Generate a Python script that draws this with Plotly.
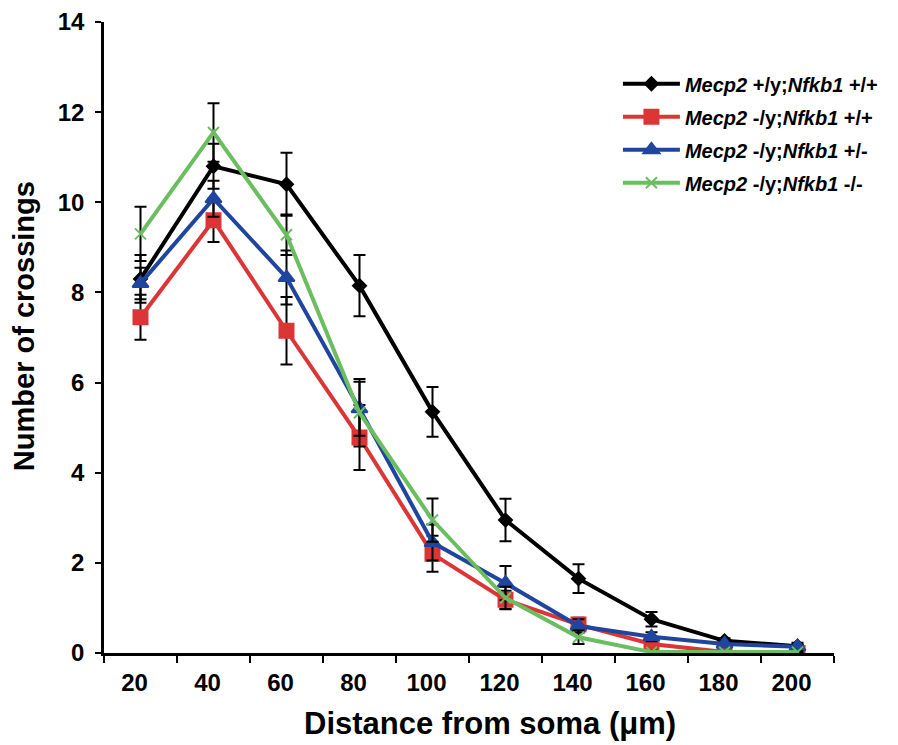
import plotly.graph_objects as go

distances = ["20", "40", "60", "80", "100", "120", "140", "160", "180", "200"]

wt_mean = [8.3, 10.8, 10.4, 8.15, 5.35, 2.95, 1.65, 0.75, 0.27, 0.15]
wt_err = [0.53, 0.5, 0.7, 0.68, 0.55, 0.47, 0.32, 0.16, 0.06, 0.08]

ko_mean = [7.45, 9.6, 7.15, 4.78, 2.2, 1.18, 0.63, 0.2, 0.02, 0.0]
ko_err = [0.5, 0.48, 0.75, 0.72, 0.4, 0.2, 0.15, 0.1, 0.03, 0.02]

het_mean = [8.2, 10.08, 8.33, 5.42, 2.45, 1.55, 0.6, 0.36, 0.2, 0.14]
het_err = [0.35, 0.4, 0.6, 0.6, 0.4, 0.38, 0.15, 0.1, 0.05, 0.05]

dko_mean = [9.3, 11.55, 9.28, 5.33, 2.95, 1.22, 0.35, 0.02, 0.02, 0.02]
dko_err = [0.6, 0.65, 0.45, 0.75, 0.48, 0.25, 0.15, 0.03, 0.02, 0.02]

x_title = "Distance from soma (\u03bcm)"
y_title = "Number of crossings"

series = [
    ("<i>Mecp2</i> +/y;<i>Nfkb1</i> +/+", wt_mean, wt_err, "#000000", "diamond", 10),
    ("<i>Mecp2</i> -/y;<i>Nfkb1</i> +/+", ko_mean, ko_err, "#DC3535", "square", 14),
    ("<i>Mecp2</i> -/y;<i>Nfkb1</i> +/-", het_mean, het_err, "#1F459E", "triangle-up", 14),
    ("<i>Mecp2</i> -/y;<i>Nfkb1</i> -/-", dko_mean, dko_err, "#6BBE5F", "x-thin", 11),
]

fig = go.Figure()
for i, (name, m, e, col, sym, sz) in enumerate(series):
    fig.add_trace(go.Scatter(
        x=distances, y=m, name=name, mode="lines+markers",
        line=dict(color=col, width=4),
        marker=dict(symbol=sym, size=sz, color=col, line=dict(color=col, width=2)),
        error_y=dict(type="data", array=e, visible=True, color="black", thickness=2, width=6),
        legendgroup=f"g{i}",
    ))

font_family = "Liberation Sans, Arial, sans-serif"

fig.update_layout(
    width=898, height=745,
    paper_bgcolor="white", plot_bgcolor="white",
    margin=dict(l=96, r=72, t=14, b=100),
    font=dict(family=font_family, color="black"),
    showlegend=True,
    legend=dict(
        x=0.704, y=0.933, xanchor="left", yanchor="top",
        font=dict(size=20, family=font_family, weight="bold"),
        bgcolor="rgba(0,0,0,0)", tracegroupgap=4, itemwidth=57,
    ),
    xaxis=dict(
        type="category", tickson="boundaries",
        range=[-0.5, 9.5], automargin=False,
        showline=True, linecolor="black", linewidth=2.5,
        ticks="outside", ticklen=7, tickwidth=2, tickcolor="black",
        showgrid=False, zeroline=False,
        tickfont=dict(size=24, family=font_family, weight="bold"),
        ticklabelshift=-6, ticklabelstandoff=6,
    ),
    yaxis=dict(
        range=[0, 14], dtick=2, automargin=False,
        showline=True, linecolor="black", linewidth=2.5,
        ticks="outside", ticklen=6, tickwidth=2, tickcolor="black",
        showgrid=False, zeroline=False,
        tickfont=dict(size=24, family=font_family, weight="bold"),
        ticklabelstandoff=6,
    ),
    annotations=[
        dict(text=x_title, xref="paper", yref="paper", x=0.529, y=-0.111,
             xanchor="center", yanchor="middle", showarrow=False,
             font=dict(size=31, family=font_family, weight="bold")),
        dict(text=y_title, xref="paper", yref="paper", x=-0.1096, y=0.518,
             xanchor="center", yanchor="middle", showarrow=False, textangle=-90,
             font=dict(size=29, family=font_family, weight="bold")),
    ],
)

fig.write_html("out.html")
